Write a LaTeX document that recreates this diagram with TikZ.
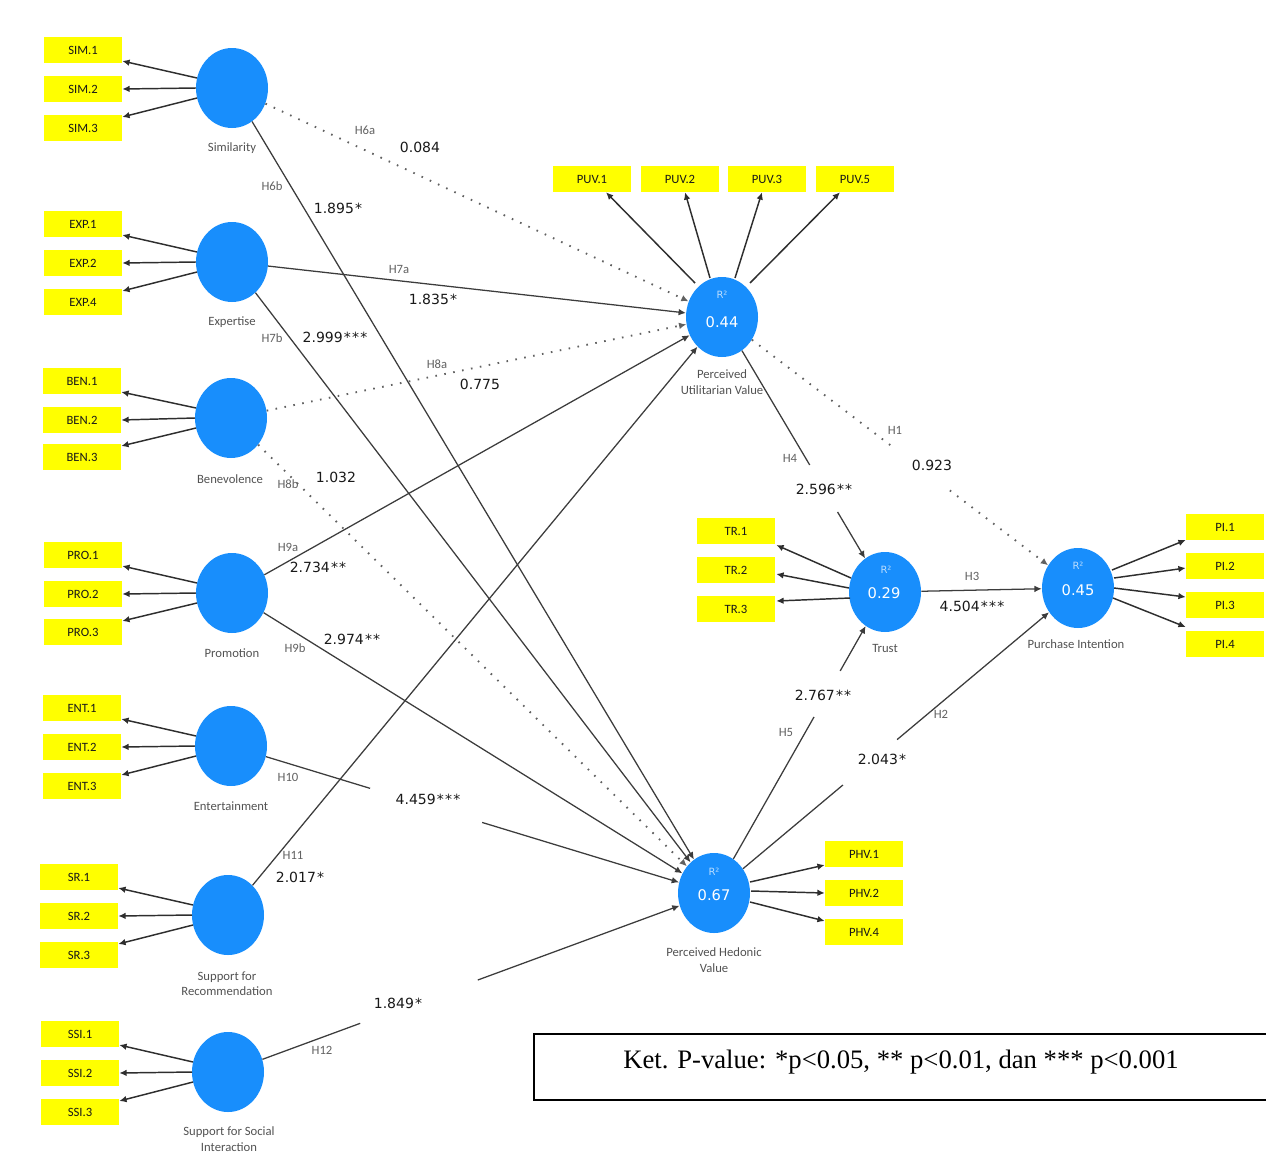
\documentclass[tikz,border=0pt]{standalone}
\usepackage{fontspec}
\setmainfont{Liberation Serif}
\newfontfamily\lblfont{Carlito}
\newfontfamily\numfont{DejaVu Sans}
\usetikzlibrary{shapes.geometric,calc,arrows.meta}

\definecolor{lvblue}{RGB}{24,142,252}
\definecolor{mvyellow}{RGB}{255,255,0}
\definecolor{pathgray}{RGB}{60,60,60}

\newcommand\sigstar{\kern0.9pt*}

\tikzset{
  lv/.style={ellipse, fill=lvblue, minimum width=54pt, minimum height=60pt, inner sep=0pt},
  mv/.style={rectangle, fill=mvyellow, minimum width=58.5pt, minimum height=19.5pt,
             inner sep=0pt, font=\lblfont\fontsize{9.5}{10}\selectfont, text=black!90},
  lvname/.style={font=\lblfont\fontsize{9.5}{11.5}\selectfont, text=black!68, align=center},
  hyp/.style={font=\lblfont\fontsize{9.5}{10}\selectfont, text=black!62},
  coef/.style={font=\numfont\fontsize{10.5}{12}\selectfont, text=black!90},
  rsq/.style={font=\numfont\fontsize{7.5}{8}\selectfont, text=white!70!lvblue},
  rval/.style={font=\numfont\fontsize{11}{13}\selectfont, text=white},
  tip/.style={-{Latex[length=5.5pt,width=5pt]}},
  load/.style={draw=black!82, line width=1.1pt, tip},
  rel/.style={draw=pathgray, line width=0.95pt},
  relarrow/.style={rel, tip},
  nsig/.style={draw=black!62, line width=1.4pt, dash pattern=on 1.2pt off 5.6pt},
  nsigarrow/.style={nsig, tip},
}

\begin{document}
\begin{tikzpicture}[x=0.75pt, y=-0.75pt]
\useasboundingbox (0,0) rectangle (1266,1153);

% ---------------- exogenous constructs ----------------
\node[lv] (sim) at (232,88)  {};
\node[lv] (exp) at (232,262) {};
\node[lv] (ben) at (231,418) {};
\node[lv] (pro) at (232,593) {};
\node[lv] (ent) at (231,746) {};
\node[lv] (sr)  at (228,915) {};
\node[lv] (ssi) at (228,1072) {};

\node[lvname] (simN) at (232,148) {Similarity};
\node[lvname] (expN) at (232,322) {Expertise};
\node[lvname] (benN) at (230,479) {Benevolence};
\node[lvname] (proN) at (232,653) {Promotion};
\node[lvname] (entN) at (231,806) {Entertainment};
\node[lvname] (srN)  at (227,984) {Support for\\Recommendation};
\node[lvname] (ssiN) at (229,1139) {Support for Social\\Interaction};

% ---------------- endogenous constructs ----------------
\node[lv] (puv)   at (722,317) {};
\node[lv] (trust) at (885,592) {};
\node[lv] (pi)    at (1078,588) {};
\node[lv] (phv)   at (714,893) {};

\node[rsq]  (puvR)   at (722,295) {R²};
\node[rval] (puvV)   at (722,322) {0.44};
\node[rsq]  (trustR) at (886,570) {R²};
\node[rval] (trustV) at (884,593) {0.29};
\node[rsq]  (piR)    at (1078,566) {R²};
\node[rval] (piV)    at (1078,590) {0.45};
\node[rsq]  (phvR)   at (714,872) {R²};
\node[rval] (phvV)   at (714,895) {0.67};

\node[lvname] (puvN)   at (722,382) {Perceived\\Utilitarian Value};
\node[lvname] (trustN) at (885,648) {Trust};
\node[lvname] (piN)    at (1076,644) {Purchase Intention};
\node[lvname] (phvN)   at (714,960) {Perceived Hedonic\\Value};

% ---------------- indicators ----------------
\node[mv] (sim1) at (83,50)  {SIM.1};
\node[mv] (sim2) at (83,89)  {SIM.2};
\node[mv] (sim3) at (83,128) {SIM.3};
\node[mv] (exp1) at (83,224) {EXP.1};
\node[mv] (exp2) at (83,263) {EXP.2};
\node[mv] (exp4) at (83,302) {EXP.4};
\node[mv] (ben1) at (82,381) {BEN.1};
\node[mv] (ben2) at (82,420) {BEN.2};
\node[mv] (ben3) at (82,457) {BEN.3};
\node[mv] (pro1) at (83,555) {PRO.1};
\node[mv] (pro2) at (83,594) {PRO.2};
\node[mv] (pro3) at (83,632) {PRO.3};
\node[mv] (ent1) at (82,708) {ENT.1};
\node[mv] (ent2) at (82,747) {ENT.2};
\node[mv] (ent3) at (82,786) {ENT.3};
\node[mv] (sr1)  at (79,877) {SR.1};
\node[mv] (sr2)  at (79,916) {SR.2};
\node[mv] (sr3)  at (79,955) {SR.3};
\node[mv] (ssi1) at (80,1034) {SSI.1};
\node[mv] (ssi2) at (80,1073) {SSI.2};
\node[mv] (ssi3) at (80,1112) {SSI.3};

\node[mv] (puv1) at (592,179) {PUV.1};
\node[mv] (puv2) at (680,179) {PUV.2};
\node[mv] (puv3) at (767,179) {PUV.3};
\node[mv] (puv5) at (855,179) {PUV.5};

\node[mv] (tr1) at (736,531) {TR.1};
\node[mv] (tr2) at (736,570) {TR.2};
\node[mv] (tr3) at (736,609) {TR.3};

\node[mv] (pi1) at (1225,527) {PI.1};
\node[mv] (pi2) at (1225,566) {PI.2};
\node[mv] (pi3) at (1225,605) {PI.3};
\node[mv] (pi4) at (1225,644) {PI.4};

\node[mv] (phv1) at (864,854) {PHV.1};
\node[mv] (phv2) at (864,893) {PHV.2};
\node[mv] (phv4) at (864,932) {PHV.4};

% ---------------- outer loadings ----------------
\foreach \c/\a/\b/\d in {sim/sim1/sim2/sim3, exp/exp1/exp2/exp4, ben/ben1/ben2/ben3,
                         pro/pro1/pro2/pro3, ent/ent1/ent2/ent3, sr/sr1/sr2/sr3,
                         ssi/ssi1/ssi2/ssi3} {
  \draw[load] ($(\c)+(-35,-10)$) -- ($(\a.east)+(0,11)$);
  \draw[load] ($(\c)+(-36,0)$)   -- (\b.east);
  \draw[load] ($(\c)+(-35,10)$)  -- ($(\d.east)+(0,-11)$);
}

\draw[load] ($(puv)+(-27,-34)$) -- ($(puv1.south)+(14,0)$);
\draw[load] ($(puv)+(-12,-39)$) -- ($(puv2.south)+(5,0)$);
\draw[load] ($(puv)+(13,-39)$)  -- ($(puv3.south)+(-5,0)$);
\draw[load] ($(puv)+(28,-34)$)  -- ($(puv5.south)+(-15,0)$);

\draw[load] ($(trust)+(-34,-14)$) -- ($(tr1.east)+(1,14)$);
\draw[load] ($(trust)+(-36,-4)$)  -- ($(tr2.east)+(1,4)$);
\draw[load] ($(trust)+(-35,6)$)   -- ($(tr3.east)+(1,-8)$);

\draw[load] ($(pi)+(34,-18)$) -- ($(pi1.west)+(0,13)$);
\draw[load] ($(pi)+(36,-10)$) -- ($(pi2.west)+(0,2)$);
\draw[load] ($(pi)+(36,0)$)   -- ($(pi3.west)+(0,-8)$);
\draw[load] ($(pi)+(35,10)$)  -- ($(pi4.west)+(0,-17)$);

\draw[load] ($(phv)+(36,-11)$) -- ($(phv1.west)+(0,11)$);
\draw[load] ($(phv)+(37,-2)$)  -- (phv2.west);
\draw[load] ($(phv)+(36,9)$)   -- ($(phv4.west)+(0,-11)$);

% ---------------- structural paths ----------------
\draw[nsigarrow] (sim) -- (puv);
\draw[relarrow]  (sim) -- (phv);
\draw[relarrow]  (exp) -- (puv);
\draw[relarrow]  (exp) -- (phv);
\draw[nsigarrow] (ben) -- (puv);
\draw[nsigarrow] (ben) -- (phv);
\draw[relarrow]  (pro) -- (puv);
\draw[relarrow]  (pro) -- (phv);
\draw[rel]       (ent) -- ($(ent)!0.288!(phv)$);
\draw[relarrow]  ($(ent)!0.52!(phv)$) -- (phv);
\draw[relarrow]  (sr) -- (puv);
\draw[rel]       (ssi) -- ($(ssi)!0.272!(phv)$);
\draw[relarrow]  ($(ssi)!0.514!(phv)$) -- (phv);

\draw[nsig]      (puv) -- ($(puv)!0.478!(pi)$);
\draw[nsigarrow] ($(puv)!0.64!(pi)$) -- (pi);
\draw[rel]       (phv) -- ($(phv)!0.354!(pi)$);
\draw[relarrow]  ($(phv)!0.503!(pi)$) -- (pi);
\draw[relarrow]  (trust) -- (pi);
\draw[rel]       (puv) -- ($(puv)!0.538!(trust)$);
\draw[relarrow]  ($(puv)!0.709!(trust)$) -- (trust);
\draw[rel]       (phv) -- ($(phv)!0.585!(trust)$);
\draw[relarrow]  ($(phv)!0.738!(trust)$) -- (trust);

% ---------------- hypothesis labels and t-values ----------------
\node[hyp]  (h6a) at (365,130) {H6a};  \node[coef] (t6a) at (420,147) {0.084};
\node[hyp]  (h6b) at (272,186) {H6b};  \node[coef] (t6b) at (338,208) {1.895\sigstar};
\node[hyp]  (h7a) at (399,269) {H7a};  \node[coef] (t7a) at (433,299) {1.835\sigstar};
\node[hyp]  (h7b) at (272,338) {H7b};  \node[coef] (t7b) at (335,337) {2.999\sigstar\sigstar\sigstar};
\node[hyp]  (h8a) at (437,364) {H8a};  \node[coef] (t8a) at (480,384) {0.775};
\node[hyp]  (h8b) at (288,484) {H8b};  \node[coef] (t8b) at (336,477) {1.032};
\node[hyp]  (h9a) at (288,547) {H9a};  \node[coef] (t9a) at (318,567) {2.734\sigstar\sigstar};
\node[hyp]  (h9b) at (295,648) {H9b};  \node[coef] (t9b) at (352,639) {2.974\sigstar\sigstar};
\node[hyp]  (h10) at (288,777) {H10};  \node[coef] (t10) at (428,799) {4.459\sigstar\sigstar\sigstar};
\node[hyp]  (h11) at (293,855) {H11};  \node[coef] (t11) at (300,877) {2.017\sigstar};
\node[hyp]  (h12) at (322,1050) {H12}; \node[coef] (t12) at (398,1003) {1.849\sigstar};
\node[hyp]  (h1)  at (895,430) {H1};   \node[coef] (t1)  at (932,465) {0.923};
\node[hyp]  (h2)  at (941,714) {H2};   \node[coef] (t2)  at (882,759) {2.043\sigstar};
\node[hyp]  (h3)  at (972,576) {H3};   \node[coef] (t3)  at (972,606) {4.504\sigstar\sigstar\sigstar};
\node[hyp]  (h4)  at (790,458) {H4};   \node[coef] (t4)  at (824,489) {2.596\sigstar\sigstar};
\node[hyp]  (h5)  at (786,732) {H5};   \node[coef] (t5)  at (823,695) {2.767\sigstar\sigstar};

% ---------------- significance note ----------------
\node[font=\fontsize{20}{24}\selectfont] (note) at (901,1062)
  {Ket. P-value: *p<0.05, ** p<0.01, dan *** p<0.001};
\draw[line width=1.1pt] (1272,1034) -- (534,1034) -- (534,1100) -- (1272,1100);

\end{tikzpicture}
\end{document}
